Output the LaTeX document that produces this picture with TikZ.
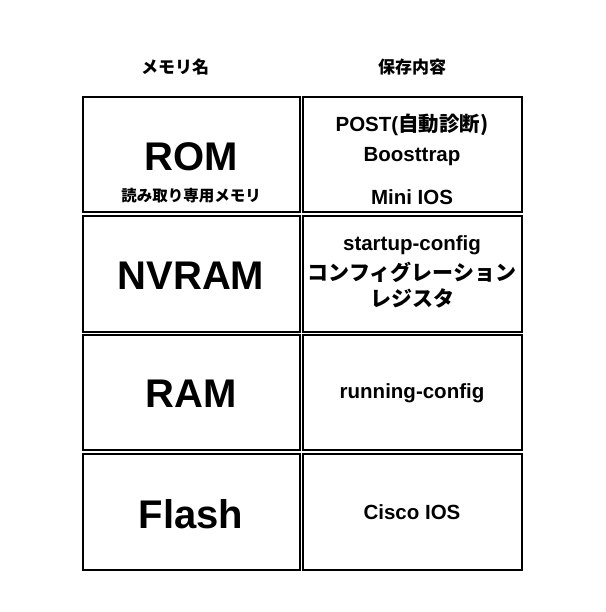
\documentclass[tikz,border=0pt]{standalone}
\usepackage{fontspec}
\setmainfont{Liberation Sans}
\newfontfamily\cjk{Noto Sans CJK JP}
\begin{document}
\begin{tikzpicture}[x=1pt,y=-1pt]
\tikzset{
  membox/.style={draw,line width=2.4pt},
  bigname/.style={font=\fontsize{40}{42}\selectfont\bfseries},
  content/.style={font=\fontsize{20.5}{26}\selectfont\bfseries,align=center},
  header/.style={font=\fontsize{17}{20}\selectfont\cjk\bfseries}
}
\useasboundingbox (0,0) rectangle (605,612);

\node[header] (hname) at (175,67) {メモリ名};
\node[header] (hcont) at (412,67) {保存内容};

% left column
\draw[membox] (83,97) rectangle (300,212);
\draw[membox] (83,216) rectangle (300,332);
\draw[membox] (83,335) rectangle (300,450);
\draw[membox] (83,454) rectangle (300,570);
% right column
\draw[membox] (303,97) rectangle (522,212);
\draw[membox] (303,216) rectangle (522,332);
\draw[membox] (303,335) rectangle (522,450);
\draw[membox] (303,454) rectangle (522,570);

\node[bigname] (rom) at (191,157) {ROM};
\node[font=\fontsize{15.5}{18}\selectfont\cjk\bfseries] (romsub) at (191,196) {読み取り専用メモリ};
\node[bigname] (nvram) at (191,276) {NVRAM};
\node[bigname] (ram) at (191,394) {RAM};
\node[bigname] (flash) at (191,514) {Flash};

\node[content] (post) at (412,125) {POST(\cjk 自動診断)};
\node[content] (boot) at (412,157) {Boosttrap};
\node[content] (mini) at (412,197) {Mini IOS};
\node[content] (startup) at (412,245) {startup-config};
\node[content,font=\fontsize{21}{26}\selectfont\cjk\bfseries] (konf) at (412,272) {コンフィグレーション};
\node[content,font=\fontsize{21}{26}\selectfont\cjk\bfseries] (regi) at (412,298) {レジスタ};
\node[content] (running) at (412,393) {running-config};
\node[content] (cisco) at (412,512) {Cisco IOS};
\end{tikzpicture}
\end{document}
